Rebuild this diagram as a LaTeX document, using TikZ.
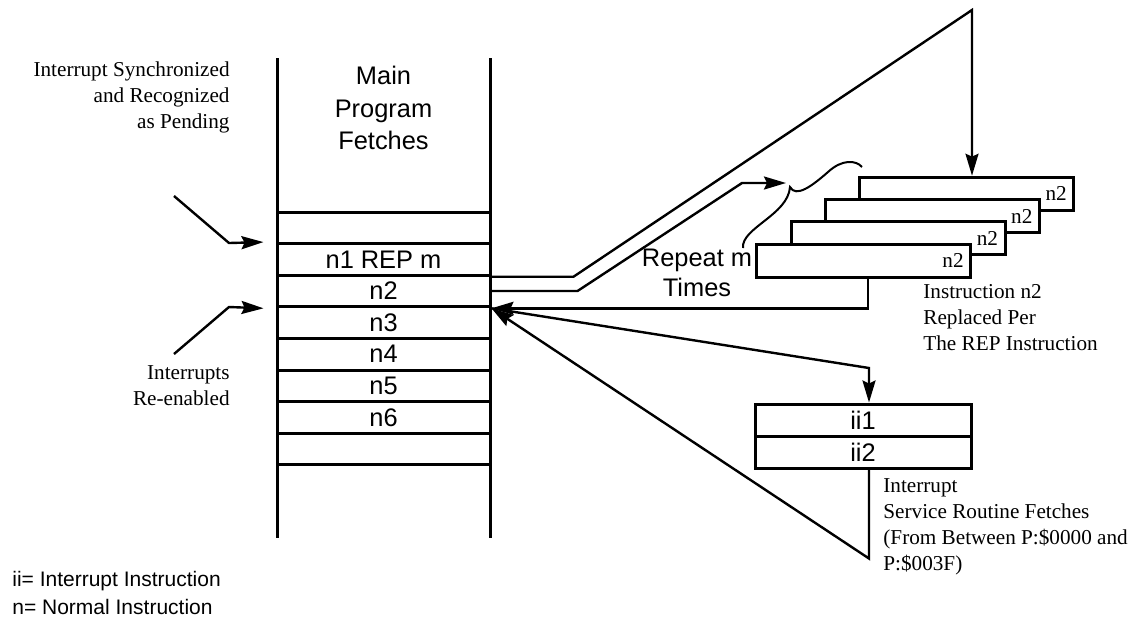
\documentclass[tikz,border=0pt]{standalone}
\usepackage{fontspec}
\setmainfont{Liberation Serif}
\setsansfont{Liberation Sans}
\usetikzlibrary{arrows.meta, positioning, calc}

\begin{document}
\begin{tikzpicture}[x=0.5pt, y=-0.5pt,
	conn/.style={line width=1.2pt, line join=miter},
	tip/.style={-{Stealth[length=11pt, width=6.5pt, inset=1.5pt]}},
	slot/.style={draw, line width=1.5pt, minimum width=106.5pt, minimum height=15.8pt,
		inner sep=0pt, font=\sffamily\fontsize{12.7}{15}\selectfont},
	copia/.style={draw, fill=white, line width=1.5pt, text width=100pt, align=right,
		inner xsep=3.5pt, inner ysep=0pt, minimum height=16.5pt, font=\fontsize{10.6}{12}\selectfont},
	nota/.style={inner sep=0pt, align=left, font=\fontsize{10.6}{13}\selectfont}]
	\useasboundingbox (0,0) rectangle (1135,618);

	% main program column
	\draw[line width=1.5pt] (277,58) -- (277,538) (490,58) -- (490,538);
	\foreach \t [count=\i from 0] in {{}, n1 REP m, n2, n3, n4, n5, n6, {}}
		\node[slot] (r\i) at (383.5,{227.8+31.6*\i}) {\t};
	\node[align=center, font=\sffamily\fontsize{12.7}{16.2}\selectfont] (titulo) at (383.5,108) {Main\\Program\\Fetches};

	\node[nota, align=right, anchor=east] (sync) at (230,97) {Interrupt Synchronized\\and Recognized\\as Pending};
	\node[nota, align=right, anchor=east] (reen) at (230,386) {Interrupts\\Re-enabled};
	\draw[conn, tip] (174,196) -- (229,243) -- ([xshift=-6pt]r1.north west);
	\draw[conn, tip] (174,354) -- (229,307) -- ([xshift=-6pt]r2.south west);

	% n2 repeated m times
	\foreach \i in {1,...,4}
		\node[copia] (b\i) at ({966.8-34.4*(\i-1)},{193.7+22.3*(\i-1)}) {n2};
	\coordinate (apex) at (972,10);
	\draw[conn, tip] (r1.south east) -- ++(82,0) -- (apex) -- (apex |- b1.north);
	\coordinate (cusp) at (790,187);
	\coordinate (rtip) at (786,183);
	\draw[conn, tip] (r2.east) -- ++(86,0) -- (742,183) -- (rtip);
	\draw[line width=1pt] (743,248) .. controls (741,228) and (788,215) .. (cusp)
		.. controls (796,198) and (812,186) .. (828,172) .. controls (842,159) and (856,160) .. (862,167);
	\node[align=center, font=\sffamily\fontsize{12.7}{15}\selectfont] (rep) at (697,273) {Repeat m\\Times};
	\draw[conn, tip] ([xshift=2.25pt]b4.south) -- ([xshift=2.25pt]b4.south |- r2.south east) -- (r2.south east);
	\node[nota, anchor=west] (repl) at (923,317.5) {Instruction n2\\Replaced Per\\The REP Instruction};

	% interrupt service routine
	\node[slot, minimum width=108pt, minimum height=16pt] (ii1) at (863,420) {ii1};
	\node[slot, minimum width=108pt, minimum height=16pt] (ii2) at (863,452) {ii2};
	\coordinate (isr) at (869,368);
	\draw[conn, tip] (r2.south east) -- (isr) -- (isr |- ii1.north);
	\draw[conn, tip] (isr |- ii2.south) -- ++(0,89) -- (r2.south east);
	\node[nota, anchor=west] (isrtxt) at (883,526.5) {Interrupt\\Service Routine Fetches\\(From Between P:\$0000 and\\P:\$003F)};

	\node[anchor=west, inner sep=0pt, align=left, font=\sffamily\fontsize{10.5}{13.7}\selectfont] (leyenda) at (12,593) {ii= Interrupt Instruction\\n= Normal Instruction};
\end{tikzpicture}
\end{document}
